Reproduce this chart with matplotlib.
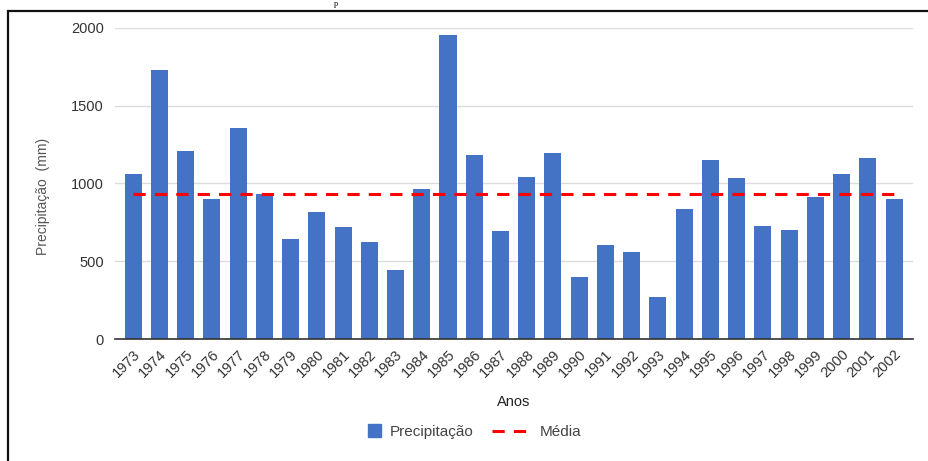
import numpy as np
import matplotlib.pyplot as plt
from matplotlib.patches import Rectangle, Patch
from matplotlib.lines import Line2D
from matplotlib.legend_handler import HandlerPatch

anos = ['1973', '1974', '1975', '1976', '1977', '1978', '1979', '1980', '1981', '1982',
        '1983', '1984', '1985', '1986', '1987', '1988', '1989', '1990', '1991', '1992',
        '1993', '1994', '1995', '1996', '1997', '1998', '1999', '2000', '2001', '2002']
precipitacao = [1058, 1727, 1206, 902, 1353, 930, 643, 815, 718, 626,
                443, 966, 1950, 1183, 692, 1041, 1198, 396, 604, 561,
                271, 837, 1148, 1032, 723, 703, 912, 1058, 1163, 899]
media = 929

plt.rcParams['font.family'] = ['Liberation Sans', 'DejaVu Sans']

fig = plt.figure(figsize=(9.29, 4.61), dpi=100)
ax = fig.add_axes([115 / 929, 1 - 339 / 461, 798 / 929, (339 - 27.7) / 461])

x = np.arange(len(anos))
ax.bar(x, precipitacao, width=0.65, color='#4472c4', zorder=3)
ax.plot([x[0], x[-1]], [media, media], color='#ff0000', lw=2.2,
        dashes=(4, 3), zorder=4)

ax.set_xlim(-0.69, 29.72)
ax.set_ylim(0, 2000)
ax.set_yticks([0, 500, 1000, 1500, 2000])
ax.yaxis.grid(True, color='#dcdcdc', lw=1, zorder=0)
for s in ['top', 'right', 'left']:
    ax.spines[s].set_visible(False)
ax.spines['bottom'].set_color('#333333')
ax.spines['bottom'].set_linewidth(1.2)
ax.spines['bottom'].set_zorder(5)
ax.tick_params(axis='both', length=0, colors='#333333', labelsize=10.5)
ax.tick_params(axis='y', pad=8)

ax.set_xticks(x)
ax.set_xticklabels(anos, rotation=45, ha='right', va='top', rotation_mode='anchor')
ax.tick_params(axis='x', pad=6)

ax.set_ylabel('Precipitação  (mm)', color='#555555', fontsize=10, va='center')
ax.yaxis.set_label_coords(-0.090, 0.457)
ax.set_xlabel('Anos', color='#222222', fontsize=10.5, va='center')
ax.xaxis.set_label_coords(0.5, -0.203)


def square(legend, orig_handle, xdescent, ydescent, width, height, fontsize):
    s = 9.0
    return Rectangle((width - s - xdescent, -ydescent + (height - s) / 2), s, s)


handles = [Patch(color='#4472c4'),
           Line2D([], [], color='#ff0000', lw=2.2, dashes=(4, 3))]
fig.legend(handles, ['Precipitação', 'Média'], loc='center',
           bbox_to_anchor=(462 / 929, 1 - 432 / 461), ncol=2, frameon=False,
           fontsize=11, handlelength=2.5, handletextpad=0.6, columnspacing=1.2,
           labelcolor='#444444',
           handler_map={Patch: HandlerPatch(patch_func=square)})

# document frame and cut caption
fig.add_artist(Rectangle((8 / 929, -0.2), 1.2, 1.2 - 11 / 461, transform=fig.transFigure,
                         fill=False, ec='#111111', lw=1.6))
fig.text(336 / 929, 1, 'p', family='Liberation Serif', fontsize=6,
         ha='center', va='top')

fig.savefig('out.png', dpi=100)
